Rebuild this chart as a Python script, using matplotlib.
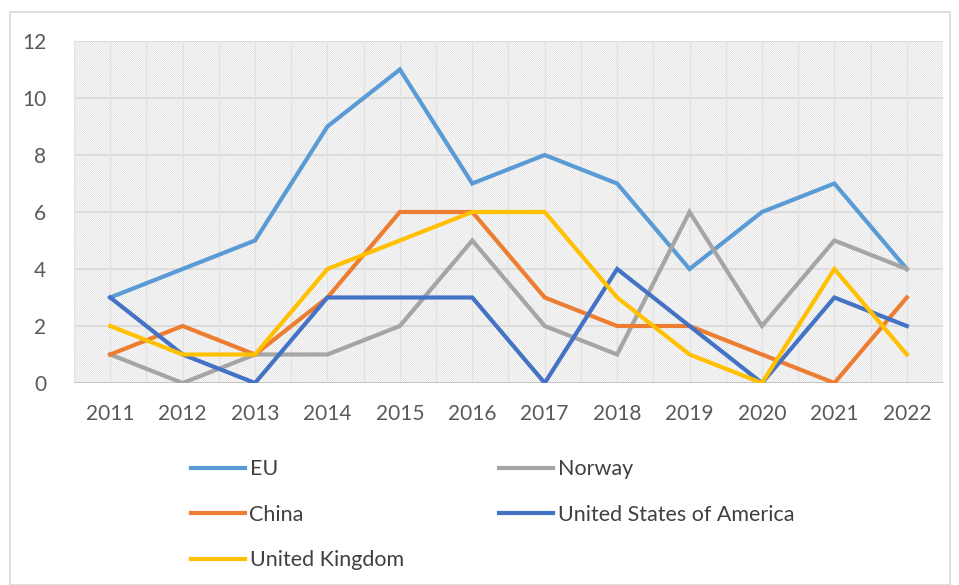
import matplotlib.pyplot as plt
from matplotlib.patches import Rectangle
from matplotlib.lines import Line2D

years = ["2011", "2012", "2013", "2014", "2015", "2016",
         "2017", "2018", "2019", "2020", "2021", "2022"]
eu = [3, 4, 5, 9, 11, 7, 8, 7, 4, 6, 7, 4]
norway = [1, 0, 1, 1, 2, 5, 2, 1, 6, 2, 5, 4]
china = [1, 2, 1, 3, 6, 6, 3, 2, 2, 1, 0, 3]
usa = [3, 1, 0, 3, 3, 3, 0, 4, 2, 0, 3, 2]
uk = [2, 1, 1, 4, 5, 6, 6, 3, 1, 0, 4, 1]

series = [
    ("EU", eu, "#5B9BD5"),
    ("Norway", norway, "#A5A5A5"),
    ("China", china, "#ED7D31"),
    ("United States of America", usa, "#4472C4"),
    ("United Kingdom", uk, "#FFC000"),
]

plt.rcParams["font.family"] = ["Lato", "DejaVu Sans"]
plt.rcParams["hatch.linewidth"] = 0.4
plt.rcParams["hatch.color"] = "#D6D6D6"

fig = plt.figure(figsize=(9.59, 5.85), dpi=100)
ax = fig.add_axes([74 / 959, 1 - 383 / 585, (943 - 74) / 959, (383 - 41) / 585])

# outer chart border
fig.patches.append(Rectangle((10 / 959, 0), 940 / 959, 1 - 12 / 585,
                             transform=fig.transFigure, fill=False,
                             edgecolor="#D9D9D9", linewidth=1.2))

x = list(range(len(years)))
ax.set_xlim(-0.5, len(years) - 0.5)
ax.set_ylim(0, 12)

# hatched plot area
ax.add_patch(Rectangle((-0.5, 0), len(years), 12, facecolor="white",
                       hatch="\\" * 16, edgecolor="#D6D6D6", linewidth=0, zorder=0))

# gridlines
for gy in range(0, 13, 2):
    ax.axhline(gy, color="#D9D9D9", linewidth=1.2, zorder=1)
for k in range(2 * len(years) + 1):
    ax.axvline(-0.5 + k * 0.5, color="#E2E2E2", linewidth=1.0, zorder=1)

for name, vals, col in series:
    ax.plot(x, vals, color=col, linewidth=3, label=name, zorder=3,
            solid_joinstyle="miter")

ax.set_xticks(x)
ax.set_xticklabels(years)
ax.set_yticks(range(0, 13, 2))
ax.tick_params(axis="both", length=0, labelsize=15, labelcolor="#595959")
ax.tick_params(axis="x", pad=15)
ax.tick_params(axis="y", pad=20)
for s in ax.spines.values():
    s.set_visible(False)
ax.axhline(0, color="#BFBFBF", linewidth=1.2, zorder=2)

handles = {name: Line2D([0], [0], color=col, linewidth=3) for name, _, col in series}
order = ["EU", "China", "United Kingdom", "Norway", "United States of America"]
leg = fig.legend([handles[n] for n in order], order, ncol=2,
                 loc="upper left", bbox_to_anchor=(172 / 959, 1 - 440 / 585),
                 frameon=False, fontsize=15.5, handlelength=2.5, handletextpad=0.2,
                 labelspacing=1.18, columnspacing=4.45)
for t in leg.get_texts():
    t.set_color("#404040")

fig.savefig("out.png", dpi=100)
